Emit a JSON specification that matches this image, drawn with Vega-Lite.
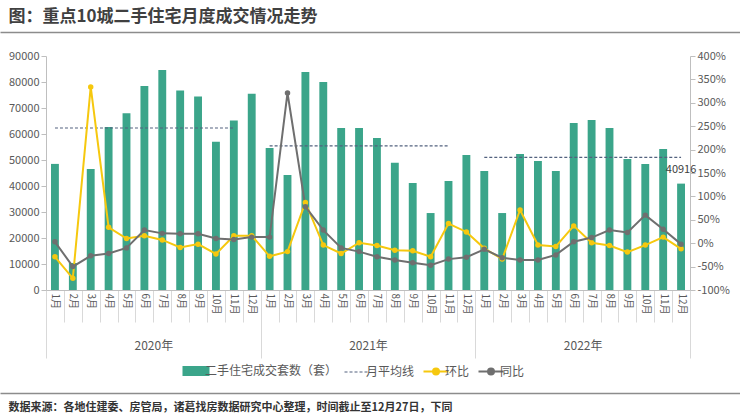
{
  "$schema": "https://vega.github.io/schema/vega-lite/v6.json",
  "width": 644,
  "height": 234,
  "autosize": {"type": "none"},
  "padding": {"left": 46, "top": 56, "right": 50, "bottom": 125},
  "background": "#ffffff",
  "config": {"font": "Noto Sans CJK SC", "view": {"stroke": null}},
  "datasets": {
    "monthly": [
      {"month": "2020-01", "count": 48500, "hb": -29, "tb": 3},
      {"month": "2020-02", "count": 10400, "hb": -75, "tb": -50},
      {"month": "2020-03", "count": 46500, "hb": 334, "tb": -27},
      {"month": "2020-04", "count": 62700, "hb": 34, "tb": -22},
      {"month": "2020-05", "count": 68000, "hb": 10, "tb": -10},
      {"month": "2020-06", "count": 78500, "hb": 16, "tb": 28},
      {"month": "2020-07", "count": 84600, "hb": 7, "tb": 21},
      {"month": "2020-08", "count": 76700, "hb": -9, "tb": 20},
      {"month": "2020-09", "count": 74400, "hb": -2, "tb": 20},
      {"month": "2020-10", "count": 57000, "hb": -23, "tb": 10},
      {"month": "2020-11", "count": 65200, "hb": 16, "tb": 8},
      {"month": "2020-12", "count": 75500, "hb": 16, "tb": 13},
      {"month": "2021-01", "count": 54600, "hb": -28, "tb": 13},
      {"month": "2021-02", "count": 44200, "hb": -18, "tb": 321},
      {"month": "2021-03", "count": 83800, "hb": 87, "tb": 78},
      {"month": "2021-04", "count": 80000, "hb": -4, "tb": 28},
      {"month": "2021-05", "count": 62300, "hb": -22, "tb": -10},
      {"month": "2021-06", "count": 62300, "hb": 1, "tb": -18},
      {"month": "2021-07", "count": 58500, "hb": -5, "tb": -29},
      {"month": "2021-08", "count": 48900, "hb": -15, "tb": -36},
      {"month": "2021-09", "count": 41200, "hb": -16, "tb": -42},
      {"month": "2021-10", "count": 29600, "hb": -29, "tb": -47},
      {"month": "2021-11", "count": 41900, "hb": 42, "tb": -34},
      {"month": "2021-12", "count": 51900, "hb": 24, "tb": -30},
      {"month": "2022-01", "count": 45800, "hb": -11, "tb": -13},
      {"month": "2022-02", "count": 29600, "hb": -34, "tb": -31},
      {"month": "2022-03", "count": 52300, "hb": 71, "tb": -36},
      {"month": "2022-04", "count": 49600, "hb": -4, "tb": -36},
      {"month": "2022-05", "count": 45800, "hb": -7, "tb": -25},
      {"month": "2022-06", "count": 64200, "hb": 37, "tb": 3},
      {"month": "2022-07", "count": 65400, "hb": 1, "tb": 12},
      {"month": "2022-08", "count": 62300, "hb": -5, "tb": 28},
      {"month": "2022-09", "count": 50400, "hb": -19, "tb": 23},
      {"month": "2022-10", "count": 48500, "hb": -4, "tb": 60},
      {"month": "2022-11", "count": 54200, "hb": 13, "tb": 30},
      {"month": "2022-12", "count": 40916, "hb": -12, "tb": -2}
    ],
    "avg": [
      {"from": "2020-01", "to": "2020-11", "avg": 62300},
      {"from": "2021-01", "to": "2021-11", "avg": 55400},
      {"from": "2022-01", "to": "2022-12", "avg": 51000}
    ],
    "years": [{"year": "2020年"}, {"year": "2021年"}, {"year": "2022年"}],
    "one": [{"v": 0}]
  },
  "layer": [
    {
      "data": {"name": "monthly"},
      "mark": {"type": "bar", "color": "#3BA58A"},
      "encoding": {
        "x": {"field": "month", "type": "ordinal", "axis": null,
          "scale": {"type": "band", "paddingInner": 0.56, "paddingOuter": 0.28}},
        "y": {"field": "count", "type": "quantitative",
          "scale": {"domain": [0, 90000], "nice": false},
          "axis": {"orient": "left", "title": null, "grid": false, "format": "d",
            "values": [0, 10000, 20000, 30000, 40000, 50000, 60000, 70000, 80000, 90000],
            "domainColor": "#bfbfbf", "tickColor": "#bfbfbf", "tickSize": 5,
            "labelFontSize": 11, "labelColor": "#595959", "labelPadding": 2}}
      }
    },
    {
      "data": {"name": "avg"},
      "mark": {"type": "rule", "strokeDash": [3, 2], "strokeWidth": 1.2, "color": "#52617E"},
      "encoding": {
        "x": {"field": "from", "type": "ordinal", "axis": null,
          "scale": {"type": "band", "paddingInner": 0.56, "paddingOuter": 0.28,
            "domain": ["2020-01","2020-02","2020-03","2020-04","2020-05","2020-06","2020-07","2020-08","2020-09","2020-10","2020-11","2020-12","2021-01","2021-02","2021-03","2021-04","2021-05","2021-06","2021-07","2021-08","2021-09","2021-10","2021-11","2021-12","2022-01","2022-02","2022-03","2022-04","2022-05","2022-06","2022-07","2022-08","2022-09","2022-10","2022-11","2022-12"]}},
        "x2": {"field": "to"},
        "y": {"field": "avg", "type": "quantitative", "axis": null,
          "scale": {"domain": [0, 90000], "nice": false}}
      }
    },
    {
      "data": {"name": "monthly"},
      "transform": [{"filter": "datum.month === '2022-12'"}],
      "mark": {"type": "text", "dy": -14, "fontSize": 11, "color": "#404040"},
      "encoding": {
        "x": {"field": "month", "type": "ordinal", "axis": null,
          "scale": {"type": "band", "paddingInner": 0.56, "paddingOuter": 0.28,
            "domain": ["2020-01","2020-02","2020-03","2020-04","2020-05","2020-06","2020-07","2020-08","2020-09","2020-10","2020-11","2020-12","2021-01","2021-02","2021-03","2021-04","2021-05","2021-06","2021-07","2021-08","2021-09","2021-10","2021-11","2021-12","2022-01","2022-02","2022-03","2022-04","2022-05","2022-06","2022-07","2022-08","2022-09","2022-10","2022-11","2022-12"]}},
        "y": {"field": "count", "type": "quantitative", "axis": null,
          "scale": {"domain": [0, 90000], "nice": false}},
        "text": {"field": "count", "type": "quantitative", "format": "d"}
      }
    },
    {
      "data": {"name": "monthly"},
      "transform": [{"fold": ["hb", "tb"], "as": ["series", "pct"]}],
      "mark": {"type": "line", "strokeWidth": 2, "point": {"filled": true, "size": 30}},
      "encoding": {
        "x": {"field": "month", "type": "ordinal", "axis": null,
          "scale": {"type": "band", "paddingInner": 0.56, "paddingOuter": 0.28}},
        "y": {"field": "pct", "type": "quantitative",
          "scale": {"domain": [-100, 400], "nice": false},
          "axis": {"orient": "right", "title": null, "grid": false,
            "values": [-100, -50, 0, 50, 100, 150, 200, 250, 300, 350, 400],
            "labelExpr": "datum.value + '%'",
            "domainColor": "#bfbfbf", "tickColor": "#bfbfbf", "tickSize": 5,
            "labelFontSize": 11, "labelColor": "#595959", "labelPadding": 2}},
        "color": {"field": "series", "type": "nominal",
          "scale": {"domain": ["二手住宅成交套数（套）", "月平均线", "hb", "tb"],
            "range": ["#3BA58A", "#52617E", "#F6C80E", "#6F6F6F"]},
          "legend": {"orient": "none", "legendX": 144, "legendY": 309, "direction": "horizontal",
            "title": null, "labelFontSize": 12, "labelColor": "#595959",
            "labelExpr": "datum.label === 'hb' ? '环比' : datum.label === 'tb' ? '同比' : datum.label",
            "symbolSize": 625, "columnPadding": 4, "labelOffset": 3,
            "encode": {"symbols": {"update": {
              "shape": {"signal": "datum.value === 'hb' || datum.value === 'tb' ? 'M-1,0H1M-0.24,0A0.24,0.24,0,1,1,0.24,0A0.24,0.24,0,1,1,-0.24,0' : datum.value === '月平均线' ? 'M-1,0H-0.76M-0.6,0H-0.36M-0.2,0H0.04M0.2,0H0.44M0.6,0H0.84' : 'M-1,-0.32H1V0.32H-1Z'"},
              "strokeWidth": {"signal": "datum.value === '月平均线' ? 1.2 : 2"}
            }}}}}
      }
    },
    {
      "data": {"name": "monthly"},
      "mark": {"type": "tick", "opacity": 0},
      "encoding": {
        "x": {"field": "month", "type": "ordinal",
          "scale": {"type": "band", "paddingInner": 0, "paddingOuter": 0},
          "axis": {"orient": "bottom", "title": null, "grid": false, "labelAngle": 90,
            "labelExpr": "isString(datum.value) ? toNumber(slice(datum.value, 5)) + '月' : ''",
            "tickBand": "extent", "tickSize": 32, "tickColor": "#d9d9d9",
            "domainColor": "#bfbfbf", "labelPadding": -29, "labelFontSize": 10,
            "labelColor": "#595959", "labelAlign": "left", "labelBaseline": "middle"}}
      }
    },
    {
      "data": {"name": "years"},
      "mark": {"type": "tick", "opacity": 0},
      "encoding": {
        "x": {"field": "year", "type": "ordinal",
          "scale": {"type": "band", "paddingInner": 0, "paddingOuter": 0},
          "axis": {"orient": "bottom", "title": null, "grid": false, "labelAngle": 0,
            "domain": false, "tickBand": "extent", "tickSize": 68, "tickColor": "#d9d9d9",
            "labelPadding": -18, "labelFontSize": 12, "labelColor": "#595959"}}
      }
    },
    {
      "data": {"name": "one"},
      "mark": {"type": "tick", "opacity": 0},
      "encoding": {
        "x": {"field": "v", "type": "quantitative",
          "scale": {"domain": [0, 1], "range": [-46, 694]},
          "axis": {"orient": "top", "offset": 24, "domain": true, "domainColor": "#8c8c8c",
            "domainWidth": 1.5, "ticks": false, "labels": false, "grid": false,
            "title": "图：重点10城二手住宅月度成交情况走势",
            "titleX": -38, "titleY": -16, "titleAlign": "left", "titleBaseline": "middle",
            "titleFontSize": 17, "titleFontWeight": "bold", "titleColor": "#404040"}}
      }
    },
    {
      "data": {"name": "one"},
      "mark": {"type": "tick", "opacity": 0},
      "encoding": {
        "x": {"field": "v", "type": "quantitative",
          "scale": {"domain": [0, 1], "range": [-46, 694]},
          "axis": {"orient": "bottom", "offset": 103, "domain": true, "domainColor": "#8c8c8c",
            "domainWidth": 1.5, "ticks": false, "labels": false, "grid": false,
            "title": "数据来源：各地住建委、房管局，诸葛找房数据研究中心整理，时间截止至12月27日，下同",
            "titleX": -38, "titleY": 14, "titleAlign": "left", "titleBaseline": "middle",
            "titleFontSize": 11, "titleFontWeight": "bold", "titleColor": "#333333"}}
      }
    }
  ],
  "resolve": {"scale": {"x": "independent", "y": "independent"}}
}
